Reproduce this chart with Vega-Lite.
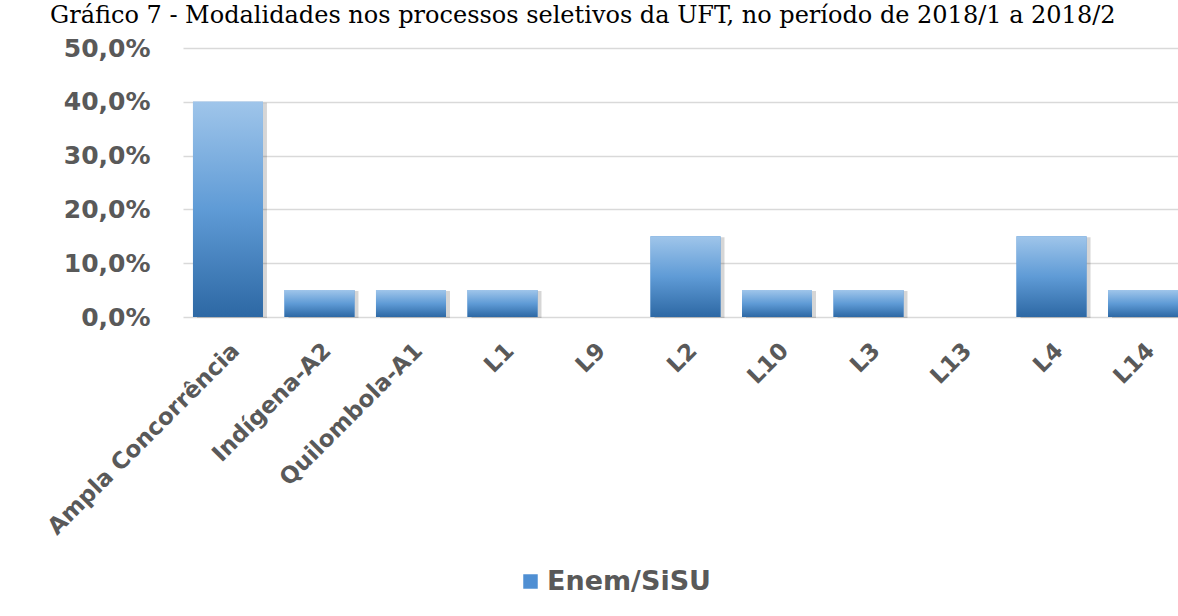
{
  "$schema": "https://vega.github.io/schema/vega-lite/v6.json",
  "autosize": "none",
  "width": 995,
  "height": 269,
  "padding": {"left": 183, "top": 48, "right": 0, "bottom": 299},
  "background": "white",
  "title": {
    "text": "Gráfico 7 - Modalidades nos processos seletivos da UFT, no período de 2018/1 a 2018/2",
    "font": "DejaVu Serif",
    "fontSize": 24,
    "fontWeight": "normal",
    "color": "#000000",
    "anchor": "start",
    "frame": "group",
    "dx": -133,
    "dy": 21,
    "baseline": "alphabetic",
    "offset": 10
  },
  "data": {
    "values": [
      {"modalidade": "Ampla Concorrência", "pct": 40, "serie": "Enem/SiSU"},
      {"modalidade": "Indígena-A2", "pct": 5, "serie": "Enem/SiSU"},
      {"modalidade": "Quilombola-A1", "pct": 5, "serie": "Enem/SiSU"},
      {"modalidade": "L1", "pct": 5, "serie": "Enem/SiSU"},
      {"modalidade": "L9", "pct": 0, "serie": "Enem/SiSU"},
      {"modalidade": "L2", "pct": 15, "serie": "Enem/SiSU"},
      {"modalidade": "L10", "pct": 5, "serie": "Enem/SiSU"},
      {"modalidade": "L3", "pct": 5, "serie": "Enem/SiSU"},
      {"modalidade": "L13", "pct": 0, "serie": "Enem/SiSU"},
      {"modalidade": "L4", "pct": 15, "serie": "Enem/SiSU"},
      {"modalidade": "L14", "pct": 5, "serie": "Enem/SiSU"}
    ]
  },
  "encoding": {
    "x": {
      "field": "modalidade",
      "type": "nominal",
      "sort": null,
      "scale": {"range": [0, 1005], "paddingInner": 0.235, "paddingOuter": 0.109},
      "axis": {
        "title": null,
        "labelAngle": -45,
        "labelFont": "DejaVu Sans",
        "labelFontSize": 23,
        "labelFontWeight": "bold",
        "labelColor": "#595959",
        "labelPadding": 22,
        "labelLimit": 400,
        "ticks": false,
        "domain": false,
        "grid": false
      }
    },
    "y": {
      "field": "pct",
      "type": "quantitative",
      "scale": {"domain": [0, 50], "nice": false},
      "axis": {
        "title": null,
        "values": [0, 10, 20, 30, 40, 50],
        "labelExpr": "replace(format(datum.value, '.1f'), '.', ',') + '%'",
        "labelFont": "DejaVu Sans",
        "labelFontSize": 25,
        "labelFontWeight": "bold",
        "labelColor": "#595959",
        "labelPadding": 33,
        "ticks": false,
        "domain": false,
        "grid": true,
        "gridColor": "#d9d9d9",
        "gridWidth": 1.5
      }
    }
  },
  "layer": [
    {
      "mark": {"type": "bar", "color": "#000000", "opacity": 0.16, "xOffset": 4, "yOffset": 1}
    },
    {
      "mark": {"type": "bar"},
      "encoding": {
        "color": {
          "field": "serie",
          "type": "nominal",
          "scale": {"range": ["#4f8fd3"]},
          "legend": {
            "title": null,
            "orient": "none",
            "legendX": 334,
            "legendY": 520,
            "symbolType": "square",
            "symbolSize": 210,
            "symbolStrokeWidth": 0,
            "labelFont": "DejaVu Sans",
            "labelFontSize": 27,
            "labelFontWeight": "bold",
            "labelColor": "#595959",
            "labelOffset": 3,
            "labelLimit": 400
          }
        }
      }
    },
    {
      "mark": {
        "type": "bar",
        "color": {
          "gradient": "linear",
          "x1": 0, "y1": 0, "x2": 0, "y2": 1,
          "stops": [
            {"offset": 0, "color": "#9fc5ea"},
            {"offset": 0.5, "color": "#5f9bd6"},
            {"offset": 1, "color": "#2d68a4"}
          ]
        }
      }
    }
  ],
  "config": {
    "view": {"stroke": null}
  }
}
